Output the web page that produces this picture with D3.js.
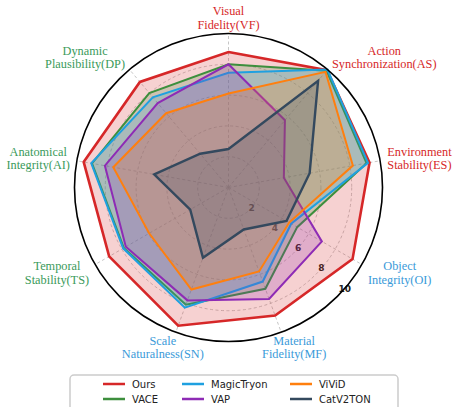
<!DOCTYPE html>
<html>
<head>
<meta charset="utf-8">
<script src="https://cdn.jsdelivr.net/npm/d3@7"></script>
<style>
  html, body { margin: 0; padding: 0; background: #fff; }
  svg { display: block; }
</style>
</head>
<body>
<svg id="chart" width="454" height="407"></svg>
<script>
// ---------------- DATA ----------------
const categories = [
  ["Visual", "Fidelity(VF)"],
  ["Action", "Synchronization(AS)"],
  ["Environment", "Stability(ES)"],
  ["Object", "Integrity(OI)"],
  ["Material", "Fidelity(MF)"],
  ["Scale", "Naturalness(SN)"],
  ["Temporal", "Stability(TS)"],
  ["Anatomical", "Integrity(AI)"],
  ["Dynamic", "Plausibility(DP)"]
];
const seriesNames = ["Ours", "VACE", "MagicTryon", "VAP", "ViViD", "CatV2TON"];
const ours       = [8.8, 9.95, 9.3, 9.3, 8.85, 9.55, 8.95, 9.55, 8.95];
const vace       = [8.0, 9.9, 9.1, 5.15, 7.0, 8.1, 7.85, 9.0, 8.0];
const magicTryon = [7.45, 10.0, 9.2, 4.7, 6.5, 8.3, 7.9, 9.05, 7.65];
const vap        = [8.0, 5.7, 3.65, 7.0, 7.7, 7.8, 7.7, 8.15, 7.15];
const vivid      = [6.1, 9.8, 8.2, 4.55, 5.8, 7.05, 5.95, 7.6, 6.3];
const catv2ton   = [2.5, 9.05, 5.35, 4.35, 2.9, 4.85, 2.87, 4.9, 2.86];
const radialTicks = [2, 4, 6, 8, 10];

// ---------------- STYLE ----------------
const seriesValues = [ours, vace, magicTryon, vap, vivid, catv2ton];
const seriesColors = ["#d62728", "#3d8f3d", "#1fa0e0", "#8e2bb5", "#ff7f0e", "#34495e"];
const seriesWidths = [2.6, 2, 2, 2, 2, 2.4];
const labelColors = ["#d62728", "#d62728", "#d62728",
                     "#3a9ad9", "#3a9ad9", "#3a9ad9",
                     "#3a9a5a", "#3a9a5a", "#3a9a5a"];

const W = 454, H = 407;
const cx = 228.5, cy = 187.5, R = 154;
const svg = d3.select("#chart");
const g = svg.append("g").attr("transform", `translate(${cx},${cy})`);

const n = categories.length;
const angle = d3.scaleLinear().domain([0, n]).range([0, 2 * Math.PI]);
const r = d3.scaleLinear().domain([0, 10]).range([0, R]);

// grid circles
g.selectAll("circle.grid").data(radialTicks.filter(t => t < 10)).join("circle")
  .attr("r", d => r(d)).attr("fill", "none")
  .attr("stroke", "#b8b8b8").attr("stroke-width", 0.8)
  .attr("stroke-dasharray", "3,2.5");

// spokes
g.selectAll("line.spoke").data(d3.range(n)).join("line")
  .attr("x1", 0).attr("y1", 0)
  .attr("x2", i => R * Math.sin(angle(i)))
  .attr("y2", i => -R * Math.cos(angle(i)))
  .attr("stroke", "#b8b8b8").attr("stroke-width", 0.8)
  .attr("stroke-dasharray", "3,2.5");

// radial tick labels (under the fills)
const tickAngle = 131 * Math.PI / 180;
g.selectAll("text.rtick").data(radialTicks).join("text")
  .attr("x", d => r(d) * Math.sin(tickAngle))
  .attr("y", d => -r(d) * Math.cos(tickAngle))
  .attr("text-anchor", "middle").attr("dominant-baseline", "central")
  .attr("font-family", "DejaVu Sans").attr("font-weight", "bold")
  .attr("font-size", 9).attr("fill", "#222")
  .text(d => d);

// series
const line = d3.lineRadial()
  .angle((d, i) => angle(i))
  .radius(d => r(d))
  .curve(d3.curveLinearClosed);

seriesValues.forEach((vals, k) => {
  g.append("path").datum(vals)
    .attr("d", line)
    .attr("fill", seriesColors[k]).attr("fill-opacity", 0.21)
    .attr("stroke", seriesColors[k]).attr("stroke-width", seriesWidths[k])
    .attr("stroke-linejoin", "miter");
});

// outer circle
g.append("circle").attr("r", R).attr("fill", "none")
  .attr("stroke", "#000").attr("stroke-width", 1.6);

// category labels: side labels anchored at their inner edge, bottom/top centred
const Ry = 170, Rside = 161, Rmid = 192, lineH = 13.5;
categories.forEach((lines, i) => {
  const a = angle(i);
  const dx = Math.sin(a), dy = -Math.cos(a);
  let anchor = "middle", x;
  if (dx > 0.5) { anchor = "start"; x = dx * Rside; }
  else if (dx < -0.5) { anchor = "end"; x = dx * Rside; }
  else { x = dx * Rmid; }
  const y = dy * Ry;
  const t = g.append("text")
    .attr("font-family", "Liberation Serif, serif")
    .attr("font-size", 12.3)
    .attr("fill", labelColors[i])
    .attr("text-anchor", "middle");
  lines.forEach((s, j) => {
    t.append("tspan").attr("x", 0)
      .attr("y", (j - (lines.length - 1) / 2) * lineH)
      .attr("dy", "0.35em").text(s);
  });
  const w = t.node().getBBox().width;
  const shift = anchor === "start" ? w / 2 : anchor === "end" ? -w / 2 : 0;
  t.attr("transform", `translate(${x + shift},${y})`);
});

// legend
const lg = svg.append("g");
lg.append("rect").attr("x", 70).attr("y", 375).attr("width", 328).attr("height", 36)
  .attr("rx", 4).attr("fill", "#fff").attr("stroke", "#cccccc").attr("stroke-width", 1.5);
const colX = [103, 182, 290];
const rowY = [384, 399];
seriesNames.forEach((name, k) => {
  const col = Math.floor(k / 2), row = k % 2;
  const x = colX[col], y = rowY[row];
  lg.append("line").attr("x1", x).attr("x2", x + 22).attr("y1", y).attr("y2", y)
    .attr("stroke", seriesColors[k]).attr("stroke-width", 2.5);
  lg.append("text").attr("x", x + 29).attr("y", y).attr("dy", "0.35em")
    .attr("font-family", "DejaVu Sans").attr("font-size", 10).attr("fill", "#222")
    .text(name);
});
</script>
</body>
</html>
